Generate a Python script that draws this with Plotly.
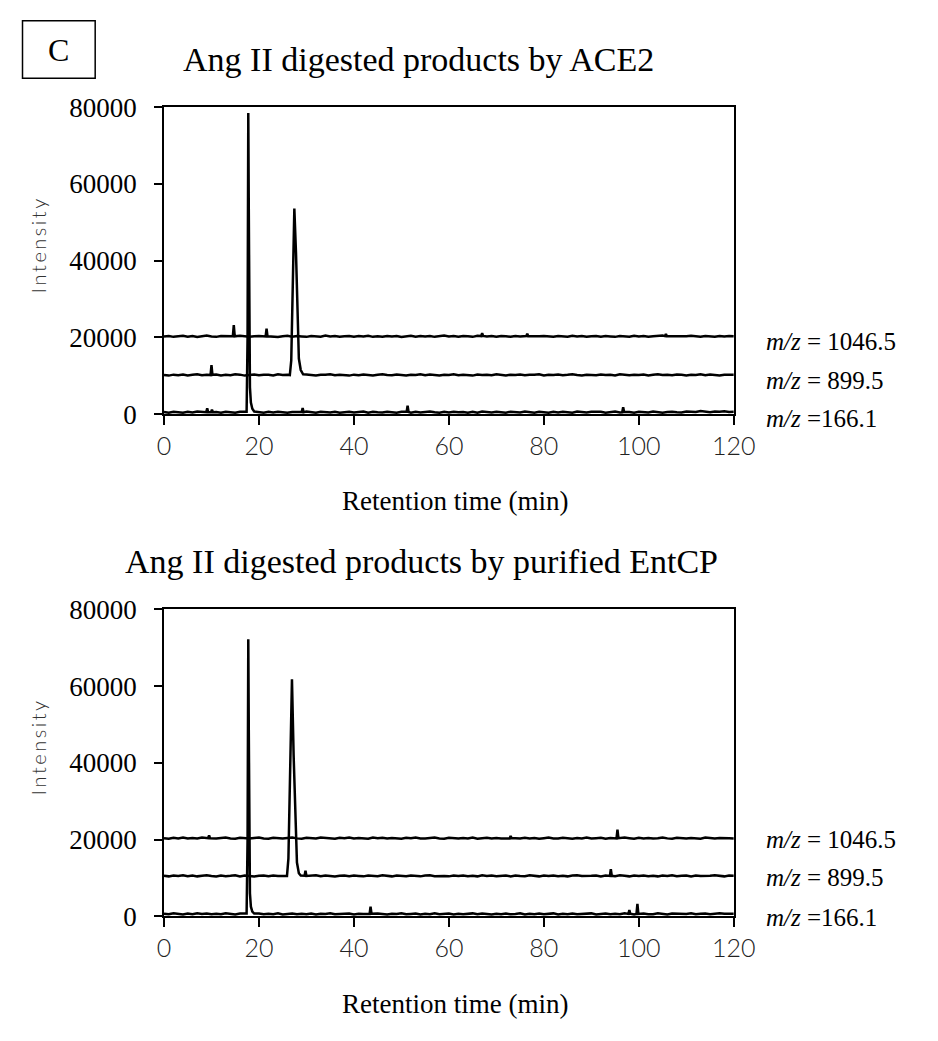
import plotly.graph_objects as go

W, H = 938, 1041

# ---------------- data ----------------
time_grid = list(range(0, 121))  # min

x_tick_vals = [0, 20, 40, 60, 80, 100, 120]
x_tick_text = ["0", "20", "40", "60", "80", "100", "120"]
y_tick_vals = [0, 20000, 40000, 60000, 80000]
y_tick_text = ["0", "20000", "40000", "60000", "80000"]

series_names = ["m/z = 1046.5", "m/z = 899.5", "m/z =166.1"]

# ---- Panel 1: Ang II digested products by ACE2 ----
ace2_1046_base = [
    20250, 20400, 20150, 20300, 20450, 20200, 20350, 20100, 20300, 20500,
    20250, 20150, 20400, 20300, 20200, 20350, 20450, 20250, 20150, 20300,
    20400, 20200, 20350, 20250, 20100, 20300, 20450, 20200, 20350, 20250,
    20150, 20400, 20300, 20200, 20500, 20250, 20350, 20150, 20300, 20400,
    20200, 20350, 20250, 20450, 20150, 20300, 20200, 20400, 20250, 20350,
    20100, 20300, 20450, 20200, 20350, 20250, 20400, 20150, 20300, 20500,
    20250, 20350, 20200, 20400, 20300, 20150, 20450, 20600, 20250, 20350,
    20200, 20400, 20300, 20150, 20350, 20250, 20450, 20550, 20200, 20300,
    20400, 20250, 20150, 20350, 20300, 20200, 20450, 20250, 20350, 20150,
    20300, 20400, 20200, 20350, 20250, 20150, 20400, 20300, 20200, 20450,
    20250, 20350, 20150, 20300, 20400, 20500, 20600, 20250, 20350, 20200,
    20300, 20450, 20250, 20150, 20350, 20300, 20200, 20400, 20250, 20350,
    20300]
ace2_1046_peak_t = [14.5, 14.7, 14.9, 21.4, 21.6, 21.8, 66.8, 67.0, 67.2, 76.3, 76.5, 76.7, 105.5, 105.7, 105.9]
ace2_1046_peak_y = [20300, 23200, 20300, 20250, 22300, 20300, 20350, 21100, 20400, 20350, 21000, 20300, 20350, 20900, 20300]

ace2_899_base = [
    10200, 10050, 10300, 10150, 10350, 10100, 10250, 10400, 10150, 10300,
    10200, 10350, 10100, 10250, 10150, 10400, 10300, 10050, 10200, 10350,
    10150, 10300, 10250, 10100, 10400, 10200, 10300, 10250, 10200, 10150,
    10350, 10200, 10100, 10300, 10250, 10400, 10150, 10300, 10200, 10050,
    10300, 10150, 10350, 10250, 10100, 10300, 10400, 10200, 10150, 10350,
    10250, 10100, 10300, 10200, 10400, 10150, 10350, 10250, 10100, 10300,
    10200, 10400, 10150, 10300, 10250, 10050, 10350, 10200, 10300, 10150,
    10400, 10250, 10100, 10300, 10200, 10350, 10150, 10300, 10250, 10400,
    10100, 10300, 10200, 10350, 10150, 10250, 10400, 10200, 10100, 10300,
    10250, 10150, 10350, 10200, 10300, 10100, 10400, 10250, 10150, 10300,
    10200, 10350, 10100, 10250, 10400, 10200, 10300, 10150, 10350, 10250,
    10100, 10300, 10200, 10400, 10150, 10350, 10250, 10100, 10300, 10200,
    10250]
ace2_899_peak_t = [9.8, 10.0, 10.2,
                   26.5, 26.8, 27.1, 27.45, 27.8, 28.1, 28.4, 28.8, 29.3]
ace2_899_peak_y = [10200, 12800, 10250,
                   10200, 14000, 32000, 53600, 42000, 24000, 14500, 11500, 10400]

ace2_166_base = [
    550, 400, 650, 500, 350, 600, 450, 700, 500, 600,
    450, 550, 400, 650, 500, 350, 600, 450, 550, 700,
    500, 400, 600, 450, 650, 500, 350, 550, 600, 450,
    700, 500, 400, 600, 550, 450, 650, 350, 500, 600,
    450, 550, 700, 400, 600, 500, 450, 650, 550, 400,
    600, 500, 350, 650, 450, 550, 700, 500, 400, 600,
    450, 650, 500, 550, 400, 600, 350, 700, 500, 450,
    600, 550, 400, 650, 500, 450, 700, 550, 400, 600,
    500, 350, 650, 450, 600, 550, 400, 700, 500, 450,
    600, 550, 650, 400, 500, 700, 450, 600, 550, 400,
    650, 500, 450, 700, 600, 400, 550, 650, 500, 450,
    700, 600, 550, 800, 650, 500, 700, 600, 750, 550,
    600]
ace2_166_peak_t = [8.9, 9.1, 9.3, 9.9, 10.1, 10.3,
                   17.4, 17.6, 17.75, 17.85, 17.95, 18.1, 18.3, 18.6, 19.0,
                   29.0, 29.2, 29.4, 51.1, 51.3, 51.5, 96.5, 96.7, 96.9]
ace2_166_peak_y = [500, 1500, 550, 500, 1150, 500,
                   600, 20000, 78500, 55000, 18000, 7000, 3000, 1400, 700,
                   550, 1600, 500, 600, 2200, 550, 500, 1800, 550]

# ---- Panel 2: Ang II digested products by purified EntCP ----
ent_1046_base = [
    20350, 20200, 20450, 20300, 20550, 20250, 20400, 20300, 20500, 20650,
    20350, 20250, 20400, 20500, 20300, 20200, 20450, 20350, 20250, 20400,
    20500, 20300, 20200, 20450, 20350, 20250, 20400, 20550, 20300, 20200,
    20450, 20350, 20250, 20500, 20400, 20300, 20200, 20450, 20350, 20550,
    20250, 20400, 20300, 20200, 20500, 20350, 20450, 20250, 20400, 20300,
    20200, 20450, 20350, 20550, 20300, 20250, 20400, 20500, 20300, 20200,
    20450, 20350, 20250, 20400, 20300, 20500, 20200, 20350, 20450, 20250,
    20400, 20300, 20200, 20550, 20350, 20250, 20450, 20300, 20400, 20200,
    20350, 20500, 20300, 20250, 20450, 20350, 20200, 20400, 20300, 20500,
    20250, 20350, 20450, 20200, 20400, 20300, 20250, 20500, 20350, 20200,
    20450, 20300, 20400, 20250, 20350, 20550, 20300, 20200, 20450, 20350,
    20250, 20400, 20300, 20200, 20500, 20350, 20250, 20400, 20300, 20350,
    20300]
ent_1046_peak_t = [9.3, 9.5, 9.7, 72.8, 73.0, 73.2, 95.3, 95.5, 95.7]
ent_1046_peak_y = [20350, 21100, 20300, 20300, 20950, 20350, 20300, 22600, 20350]

ent_899_base = [
    10550, 10400, 10650, 10500, 10700, 10450, 10600, 10400, 10550, 10700,
    10500, 10350, 10600, 10450, 10550, 10700, 10400, 10600, 10500, 10350,
    10550, 10650, 10450, 10600, 10500, 10400, 10550, 10500, 10450, 10600,
    10400, 10550, 10700, 10450, 10600, 10500, 10350, 10550, 10650, 10450,
    10600, 10500, 10400, 10650, 10550, 10450, 10700, 10500, 10400, 10600,
    10550, 10450, 10650, 10500, 10400, 10600, 10700, 10450, 10550, 10500,
    10400, 10600, 10500, 10650, 10450, 10550, 10400, 10700, 10500, 10600,
    10450, 10550, 10650, 10400, 10600, 10500, 10450, 10700, 10550, 10400,
    10600, 10500, 10650, 10450, 10550, 10400, 10600, 10700, 10500, 10450,
    10550, 10650, 10400, 10600, 10500, 10450, 10700, 10550, 10400, 10600,
    10500, 10650, 10450, 10550, 10400, 10600, 10500, 10700, 10450, 10550,
    10650, 10400, 10600, 10500, 10450, 10550, 10700, 10500, 10400, 10600,
    10550]
ent_899_peak_t = [25.9, 26.2, 26.6, 26.95, 27.3, 27.7, 28.0, 28.4, 28.8,
                  29.6, 29.8, 30.0, 93.9, 94.1, 94.3]
ent_899_peak_y = [10500, 15000, 38000, 61800, 42000, 22000, 14000, 11200, 10600,
                  10550, 11900, 10500, 10500, 12300, 10550]

ent_166_base = [
    650, 500, 750, 600, 450, 700, 550, 800, 600, 700,
    550, 650, 500, 750, 600, 450, 700, 550, 600, 650,
    700, 500, 650, 550, 750, 450, 600, 700, 500, 650,
    550, 700, 450, 650, 600, 750, 500, 600, 550, 700,
    450, 650, 600, 750, 500, 700, 550, 450, 650, 600,
    750, 500, 600, 700, 450, 650, 550, 750, 500, 600,
    700, 450, 650, 550, 600, 750, 500, 700, 600, 450,
    650, 550, 700, 500, 600, 750, 450, 650, 550, 700,
    500, 600, 750, 450, 650, 550, 700, 500, 600, 650,
    750, 450, 600, 700, 550, 650, 500, 750, 600, 450,
    650, 700, 550, 500, 750, 600, 450, 700, 650, 550,
    600, 750, 500, 650, 700, 550, 600, 800, 650, 700,
    650]
ent_166_peak_t = [17.4, 17.6, 17.75, 17.85, 17.95, 18.1, 18.3, 18.6, 19.0,
                  43.3, 43.5, 43.7, 97.8, 98.0, 98.2, 99.5, 99.7, 99.9]
ent_166_peak_y = [700, 20000, 72200, 50000, 16000, 6000, 2500, 1200, 700,
                  600, 2500, 650, 600, 1600, 650, 600, 3200, 600]


def merge(base_y, peak_t, peak_y):
    pts = [(t, y) for t, y in zip(time_grid, base_y)
           if all(abs(t - p) >= 0.45 for p in peak_t)]
    pts += list(zip(peak_t, peak_y))
    pts.sort()
    return [p[0] for p in pts], [p[1] for p in pts]


def px(x):
    return x / W


def py(y):
    return 1 - y / H


fig = go.Figure()

panels = [
    ("x", "y", [(ace2_1046_base, ace2_1046_peak_t, ace2_1046_peak_y),
                (ace2_899_base, ace2_899_peak_t, ace2_899_peak_y),
                (ace2_166_base, ace2_166_peak_t, ace2_166_peak_y)]),
    ("x2", "y2", [(ent_1046_base, ent_1046_peak_t, ent_1046_peak_y),
                  (ent_899_base, ent_899_peak_t, ent_899_peak_y),
                  (ent_166_base, ent_166_peak_t, ent_166_peak_y)]),
]
for xa, ya, series in panels:
    for name, (b, pt, pyv) in zip(series_names, series):
        tx, ty = merge(b, pt, pyv)
        fig.add_trace(go.Scatter(x=tx, y=ty, mode="lines", name=name,
                                 line=dict(color="black", width=2.5),
                                 xaxis=xa, yaxis=ya, showlegend=False,
                                 hoverinfo="skip"))

serif = "Liberation Serif, Times New Roman, serif"
thin = "Lato, DejaVu Sans, sans-serif"

xaxis_common = dict(range=[0, 120], tickvals=x_tick_vals, ticktext=x_tick_text,
                    ticks="outside", ticklen=9, tickwidth=1.5, tickcolor="black",
                    showline=True, mirror=True, linecolor="black", linewidth=1.5,
                    showgrid=False, zeroline=False,
                    tickfont=dict(family=thin, size=25, color="#222", weight=300))
yaxis_common = dict(range=[0, 80000], tickvals=y_tick_vals, ticktext=y_tick_text,
                    ticks="outside", ticklen=8, tickwidth=1.5, tickcolor="black",
                    showline=True, mirror=True, linecolor="black", linewidth=1.5,
                    showgrid=False, zeroline=False, ticklabelstandoff=12,
                    tickfont=dict(family=serif, size=27, color="black"))

fig.update_layout(
    width=W, height=H, margin=dict(l=0, r=0, t=0, b=0),
    paper_bgcolor="white", plot_bgcolor="white",
    xaxis=dict(domain=[px(162), px(750)], anchor="y", **xaxis_common),
    yaxis=dict(domain=[py(411), py(95)], anchor="x", **yaxis_common),
    xaxis2=dict(domain=[px(162), px(750)], anchor="y2", **xaxis_common),
    yaxis2=dict(domain=[py(928), py(612)], anchor="x2", **yaxis_common),
)

annotations = []
# titles
annotations.append(dict(text="Ang II digested products by ACE2", x=px(425), y=py(46),
                        font=dict(family=serif, size=34, color="black")))
annotations.append(dict(text="Ang II digested products by purified EntCP", x=px(428), y=py(563),
                        font=dict(family=serif, size=34, color="black")))
# x titles
for yy in (500, 1018):
    annotations.append(dict(text="Retention time (min)", x=px(462), y=py(yy),
                            font=dict(family=serif, size=27, color="black")))
# y titles (letter-spaced)
spaced = "\u2009".join("Intensity")
for yy in (238, 755):
    annotations.append(dict(text=spaced, x=px(32), y=py(yy), textangle=-90,
                            font=dict(family=thin, size=20, color="#333", weight=300)))
# series labels
label_html = ["<i>m/z</i> = 1046.5", "<i>m/z</i> = 899.5", "<i>m/z</i> =166.1"]
for ys in ((336, 376, 415), (849, 888, 929)):
    for lab, yy in zip(label_html, ys):
        annotations.append(dict(text=lab, x=px(781), y=py(yy), xanchor="left",
                                font=dict(family=serif, size=25, color="black")))
# panel letter
annotations.append(dict(text="C", x=px(53), y=py(36),
                        font=dict(family=serif, size=32, color="black")))

for a in annotations:
    a.setdefault("xanchor", "center")
    a.update(xref="paper", yref="paper", yanchor="middle", showarrow=False)
fig.update_layout(annotations=annotations)

fig.add_shape(type="rect", xref="paper", yref="paper",
              x0=px(16), x1=px(91), y0=py(65), y1=py(6),
              line=dict(color="black", width=1.5), fillcolor="rgba(0,0,0,0)")

fig.write_html("out.html")
